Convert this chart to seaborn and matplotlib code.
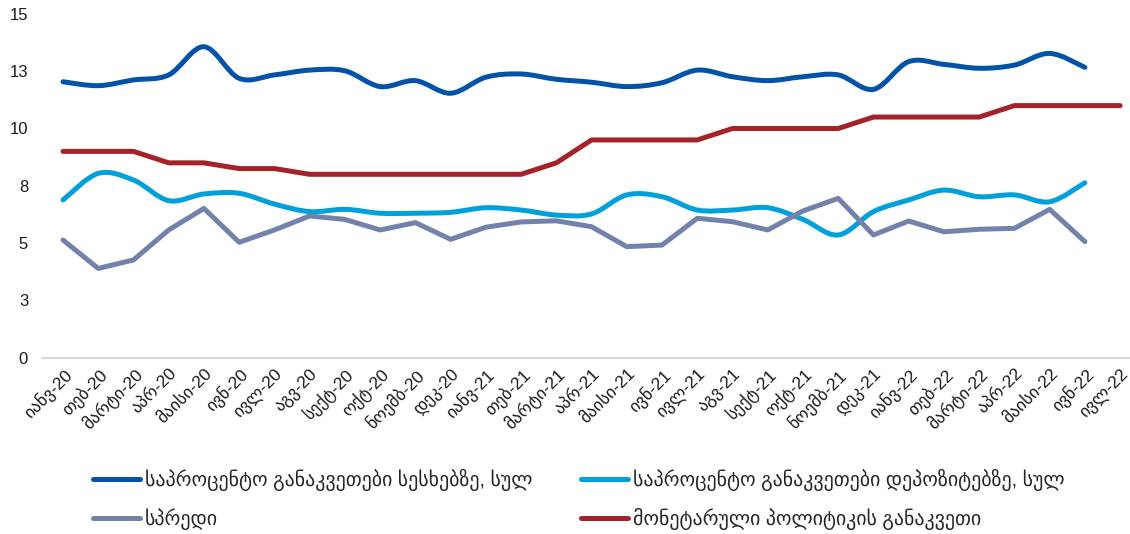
import matplotlib
matplotlib.use("Agg")
from matplotlib import pyplot as plt
from matplotlib.path import Path
from matplotlib.patches import PathPatch
from matplotlib.lines import Line2D
import pandas as pd
import numpy as np
import seaborn as sns

# data
months = ["იანვ-20", "თებ-20", "მარტი-20", "აპრ-20", "მაისი-20", "ივნ-20", "ივლ-20", "აგვ-20",
          "სექტ-20", "ოქტ-20", "ნოემბ-20", "დეკ-20", "იანვ-21", "თებ-21", "მარტი-21", "აპრ-21",
          "მაისი-21", "ივნ-21", "ივლ-21", "აგვ-21", "სექტ-21", "ოქტ-21", "ნოემბ-21", "დეკ-21",
          "იანვ-22", "თებ-22", "მარტი-22", "აპრ-22", "მაისი-22", "ივნ-22", "ივლ-22"]
loans = [12.04, 11.87, 12.12, 12.34, 13.57, 12.19, 12.34, 12.55, 12.52, 11.83, 12.09, 11.54,
         12.24, 12.38, 12.15, 12.02, 11.83, 12.0, 12.55, 12.26, 12.09, 12.26, 12.34, 11.71,
         12.92, 12.8, 12.63, 12.77, 13.28, 12.67, np.nan]
deposits = [6.88, 8.04, 7.75, 6.85, 7.14, 7.17, 6.7, 6.37, 6.47, 6.3, 6.3, 6.34,
            6.54, 6.44, 6.22, 6.27, 7.1, 7.02, 6.44, 6.44, 6.54, 6.03, 5.35, 6.37,
            6.88, 7.31, 7.02, 7.1, 6.8, 7.63, np.nan]
spread = [5.13, 3.89, 4.26, 5.57, 6.51, 5.03, 5.57, 6.18, 6.03, 5.57, 5.89, 5.16,
          5.69, 5.92, 5.97, 5.71, 4.84, 4.91, 6.08, 5.93, 5.57, 6.4, 6.95, 5.35,
          5.96, 5.49, 5.6, 5.64, 6.47, 5.06, np.nan]
policy = [9.0, 9.0, 9.0, 8.5, 8.5, 8.25, 8.25, 8.0, 8.0, 8.0, 8.0, 8.0,
          8.0, 8.0, 8.5, 9.5, 9.5, 9.5, 9.5, 10.0, 10.0, 10.0, 10.0, 10.5,
          10.5, 10.5, 10.5, 11.0, 11.0, 11.0, 11.0]
ytick_vals = [0, 2.5, 5, 7.5, 10, 12.5, 15]
ytick_labels = ["0", "3", "5", "8", "10", "13", "15"]
names = ["საპროცენტო განაკვეთები სესხებზე, სულ", "საპროცენტო განაკვეთები დეპოზიტებზე, სულ",
         "სპრედი", "მონეტარული პოლიტიკის განაკვეთი"]

c_loans, c_dep, c_spread, c_policy = "#0253a7", "#00a0db", "#7282ab", "#a4222a"
lw = 3.6

sns.set_style("white")
plt.rcParams['font.family'] = ['Liberation Sans', 'DejaVu Sans']


def smooth_path(xs, ys):
    # excel-like smoothed line: cubic bezier through the points
    pts = [(a, b) for a, b in zip(xs, ys) if not np.isnan(b)]
    n = len(pts)
    verts = [pts[0]]
    codes = [Path.MOVETO]
    for i in range(n - 1):
        p0 = pts[i - 1] if i > 0 else pts[i]
        p1 = pts[i]
        p2 = pts[i + 1]
        p3 = pts[i + 2] if i + 2 < n else pts[i + 1]
        c1 = (p1[0] + (p2[0] - p0[0]) / 6, p1[1] + (p2[1] - p0[1]) / 6)
        c2 = (p2[0] - (p3[0] - p1[0]) / 6, p2[1] - (p3[1] - p1[1]) / 6)
        verts += [c1, c2, p2]
        codes += [Path.CURVE4] * 3
    return Path(verts, codes)


fig = plt.figure(figsize=(11.3, 5.34), dpi=100)
ax = fig.add_axes([42 / 1130, 1 - 357.5 / 534, 1088 / 1130, (357.5 - 14) / 534])

x = np.arange(len(months))
df = pd.DataFrame({"x": x, "loans": loans, "deposits": deposits, "spread": spread, "policy": policy})

for col, c in [("loans", c_loans), ("deposits", c_dep)]:
    ax.add_patch(PathPatch(smooth_path(df["x"], df[col]), facecolor="none", edgecolor=c,
                           lw=lw, capstyle="round", joinstyle="round", zorder=2))
sns.lineplot(data=df, x="x", y="spread", color=c_spread, lw=lw, ax=ax, zorder=3,
             solid_capstyle="round")
sns.lineplot(data=df, x="x", y="policy", color=c_policy, lw=lw, ax=ax, zorder=3,
             solid_capstyle="round")

ax.set_xlim(-0.596, 30.28)
ax.set_ylim(0, 15)
ax.set_yticks(ytick_vals)
ax.set_yticklabels(ytick_labels)
ax.set_xticks(x)
ax.set_xticklabels(months, rotation=45, ha="right", rotation_mode="anchor")
ax.tick_params(length=0, colors="#1a1a1a")
ax.tick_params(axis="y", pad=10, labelsize=12)
ax.tick_params(axis="x", pad=6, labelsize=12.5)
ax.set_xlabel("")
ax.set_ylabel("")
for s in ["left", "top", "right"]:
    ax.spines[s].set_visible(False)
ax.spines["bottom"].set_color("#d9d9d9")
ax.spines["bottom"].set_linewidth(1.5)

h = [Line2D([], [], color=c, lw=lw) for c in [c_loans, c_dep, c_spread, c_policy]]
kw = dict(frameon=False, loc="upper left", bbox_transform=fig.transFigure, borderaxespad=0,
          borderpad=0, handlelength=2.35, handletextpad=0.25, labelspacing=0.85, fontsize=14.3)
leg1 = fig.legend([h[0], h[2]], [names[0], names[2]], bbox_to_anchor=(93 / 1130, 1 - 469 / 534), **kw)
leg2 = fig.legend([h[1], h[3]], [names[1], names[3]], bbox_to_anchor=(581 / 1130, 1 - 469 / 534), **kw)

plt.savefig("out.png", dpi=100)
